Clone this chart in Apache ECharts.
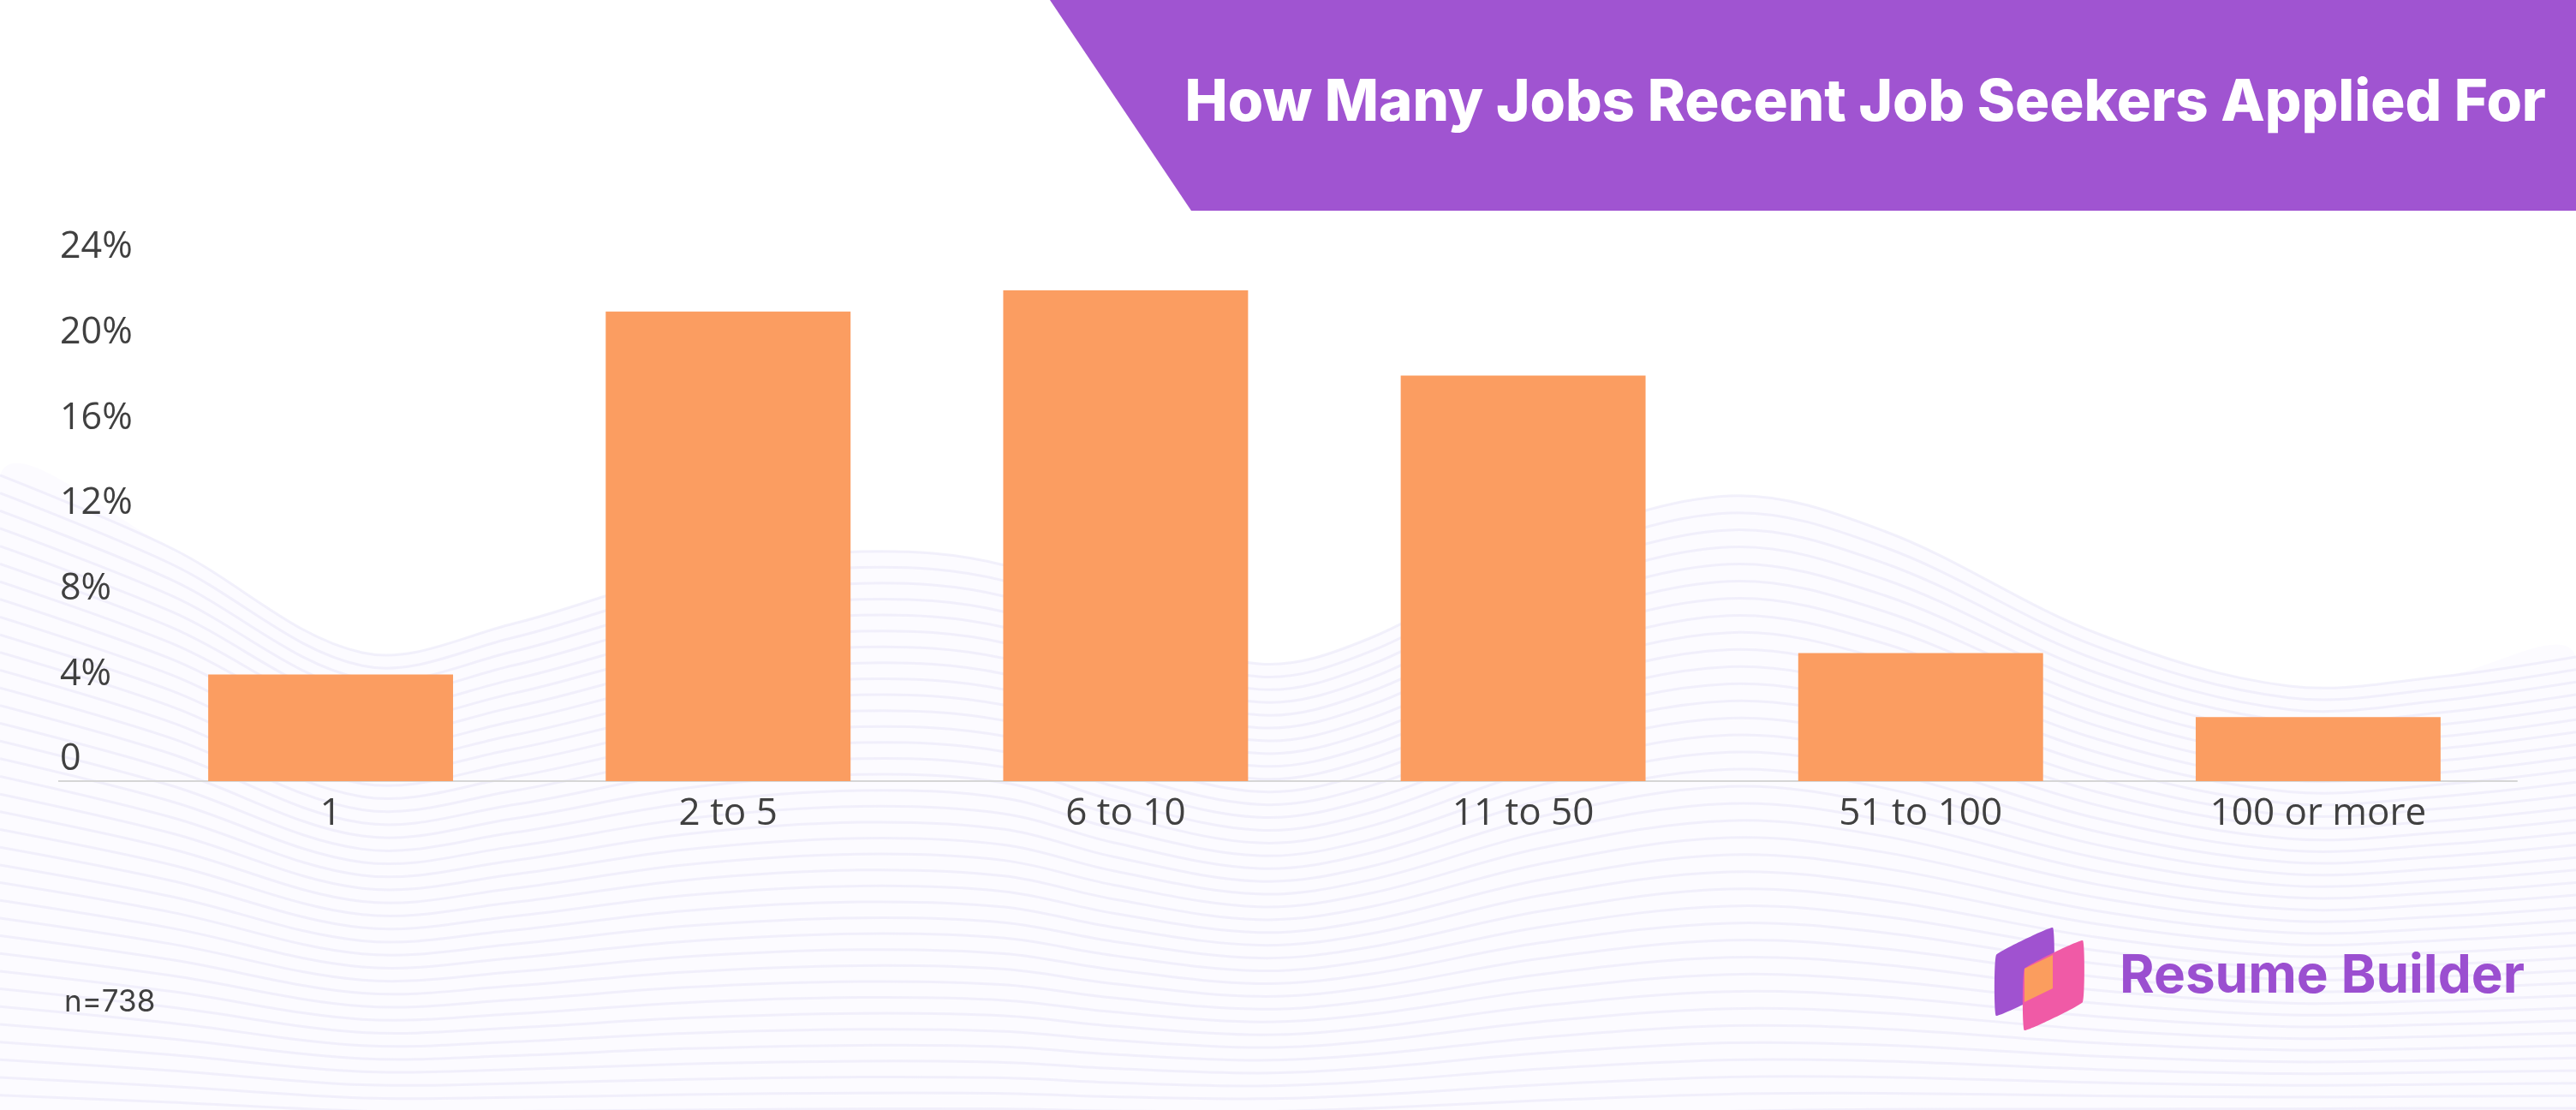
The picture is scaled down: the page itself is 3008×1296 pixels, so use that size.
<!DOCTYPE html>
<html>
<head>
<meta charset="utf-8">
<title>How Many Jobs Recent Job Seekers Applied For</title>
<script src="https://cdn.jsdelivr.net/npm/echarts@6/dist/echarts.min.js"></script>
<style>
  html, body { margin: 0; padding: 0; background: #fff; }
  #chart { width: 3008px; height: 1296px; }
</style>
</head>
<body>
<div id="chart"></div>
<script>
// data
var categories = ['1', '2 to 5', '6 to 10', '11 to 50', '51 to 100', '100 or more'];
var shares = [5, 22, 23, 19, 6, 3]; // percent of respondents
var yMin = 0;
var yMax = 24;
var yStep = 4;
var sampleNote = 'n=738';
var titleText = 'How Many Jobs Recent Job Seekers Applied For';
var brandText = 'Resume Builder';

// background wave (decoration only)
var waveTop = [[0,555],[200,640],[423,762],[600,728],[800,670],[1004,644],[1173,660],[1300,720],[1470,775],
  [1600,745],[1800,640],[2019,579],[2200,620],[2450,740],[2673,801],[2850,790],[3008,767]];

function waveLines() {
  var out = [];
  var n = 38;
  var fillPts = waveTop.slice();
  fillPts.push([3008,1296],[0,1296]);
  out.push({
    type: 'polygon', z: 0, silent: true,
    shape: { points: fillPts, smooth: 0.35 },
    style: { fill: '#fcfbff' }
  });
  for (var k = 0; k < n; k++) {
    var t = k / (n - 1);
    var pts = waveTop.map(function (p) {
      var bottom = 1320 + 12 * Math.sin(p[0] / 600);
      return [p[0], p[1] + (bottom - p[1]) * t];
    });
    out.push({
      type: 'polyline', z: 0, silent: true,
      shape: { points: pts, smooth: 0.35 },
      style: { stroke: 'rgba(232,229,247,0.55)', lineWidth: 3, fill: null }
    });
  }
  return out;
}

var chart = echarts.init(document.getElementById('chart'));

var option = {
  backgroundColor: '#ffffff',
  animation: false,
  grid: {
    left: 154,
    right: 69,
    top: 314,
    bottom: 384
  },
  xAxis: {
    type: 'category',
    data: categories,
    axisLine: { show: true, lineStyle: { color: '#d6d6d6', width: 2 } },
    axisTick: { show: false },
    axisLabel: {
      color: '#404040',
      fontSize: 44,
      fontFamily: 'Open Sans',
      margin: 16
    }
  },
  yAxis: {
    type: 'value',
    min: yMin,
    max: yMax,
    interval: yStep,
    splitLine: { show: false },
    axisLine: { show: false },
    axisTick: { show: false },
    axisLabel: {
      color: '#404040',
      fontSize: 43,
      fontFamily: 'Open Sans',
      align: 'left',
      margin: 84,
      verticalAlign: 'bottom',
      lineHeight: 50, // labels sit above their tick
      formatter: function (v) { return v === 0 ? '0' : v + '%'; }
    }
  },
  series: [{
    type: 'bar',
    data: shares,
    barCategoryGap: '38.4%',
    itemStyle: { color: '#fb9d61' },
    z: 3
  }],
  graphic: waveLines().concat([
    {
      // axis line runs on under the value labels
      type: 'line', z: 5, silent: true,
      shape: { x1: 68, y1: 912, x2: 156, y2: 912 },
      style: { stroke: '#d6d6d6', lineWidth: 2 }
    },
    {
      type: 'polygon', z: 10, silent: true,
      shape: { points: [[1226,0],[3008,0],[3008,246],[1391,246]] },
      style: { fill: '#a054d1' }
    },
    {
      type: 'text', z: 11, silent: true,
      style: {
        text: titleText, x: 2973, y: 121, align: 'right', verticalAlign: 'middle',
        fill: '#ffffff', fontSize: 67, fontWeight: 800, fontFamily: 'Inter'
      }
    },
    {
      type: 'text', z: 11, silent: true,
      style: {
        text: sampleNote, x: 75, y: 1170, align: 'left', verticalAlign: 'middle',
        fill: '#404040', fontSize: 35, fontFamily: 'Inter'
      }
    },
    // logo mark
    {
      type: 'polygon', z: 11, silent: true,
      shape: { points: [[2331,1115],[2397,1083],[2397,1154],[2331,1186]], smooth: 0.08 },
      style: { fill: '#a052d0' }
    },
    {
      type: 'polygon', z: 11, silent: true,
      shape: { points: [[2364,1131],[2432,1098],[2432,1170],[2364,1203]], smooth: 0.08 },
      style: { fill: '#f05aa6' }
    },
    {
      type: 'polygon', z: 12, silent: true,
      shape: { points: [[2364,1131],[2397,1115],[2397,1154],[2364,1170]] },
      style: { fill: '#fb9d5e' }
    },
    {
      type: 'text', z: 11, silent: true,
      style: {
        text: brandText, x: 2475, y: 1140, align: 'left', verticalAlign: 'middle',
        fill: '#9b4fd0', fontSize: 62, fontWeight: 'bold', fontFamily: 'Inter'
      }
    }
  ])
};

chart.setOption(option);
</script>
</body>
</html>
